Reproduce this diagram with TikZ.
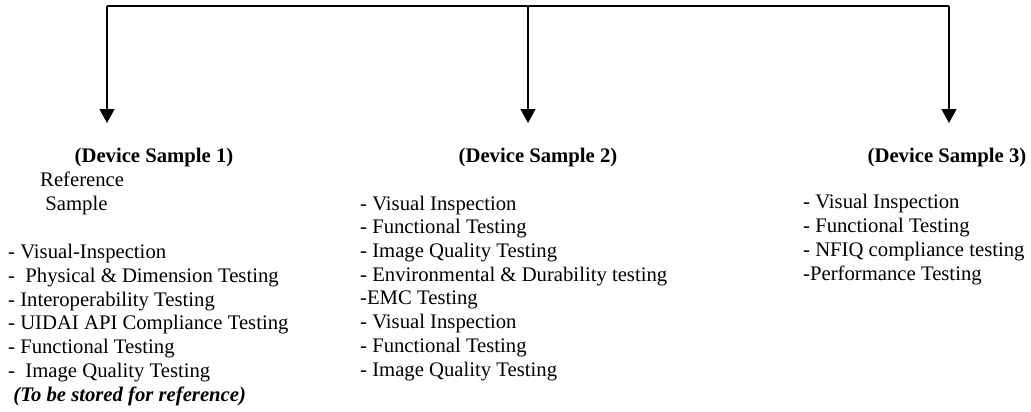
\documentclass[tikz,border=0pt]{standalone}
\usepackage{fontspec}
\setmainfont{Liberation Serif}
\usetikzlibrary{arrows.meta}
\begin{document}
\begin{tikzpicture}[x=1pt, y=-1pt, line join=round, >={Triangle[width=15pt,length=14pt]},
    font=\fontsize{20.7}{23.7}\selectfont,
    lst/.style={anchor=base west, align=left, inner sep=0pt},
    hdr/.style={anchor=base, inner sep=0pt, font=\fontsize{20.7}{23.7}\selectfont\bfseries}]
\useasboundingbox (0,0) rectangle (1031,412);
% branch line
\coordinate (t1) at (107,6); \coordinate (t2) at (528,6); \coordinate (t3) at (949,6);
\coordinate (a1) at (107,123); \coordinate (a2) at (528,123); \coordinate (a3) at (949,123);
\draw[line width=1.2pt] (t1)--(t3);
\foreach \i in {1,2,3} \draw[->, line width=1.2pt] (t\i)--(a\i);
% sample 1 (base = last line)
\node[hdr] (h1) at (154,162) {(Device Sample 1)};
\node[lst] (ref) at (40,210) {Reference\\\ Sample};
\node[lst] (s1) at (8,401) {- Visual-Inspection\\-\ \ Physical \& Dimension Testing\\- Interoperability Testing\\- UIDAI API Compliance Testing\\- Functional Testing\\-\ \ Image Quality Testing\\\ \textbf{\itshape (To be stored for reference)}};
% sample 2
\node[hdr] (h2) at (538,162) {(Device Sample 2)};
\node[lst] (s2) at (360,376) {- Visual Inspection\\- Functional Testing\\- Image Quality Testing\\- Environmental \& Durability testing\\-EMC Testing\\- Visual Inspection\\- Functional Testing\\- Image Quality Testing};
% sample 3
\node[hdr] (h3) at (947,162) {(Device Sample 3)};
\node[lst] (s3) at (803,280) {- Visual Inspection\\- Functional Testing\\- NFIQ compliance testing\\-Performance Testing};
\end{tikzpicture}
\end{document}
